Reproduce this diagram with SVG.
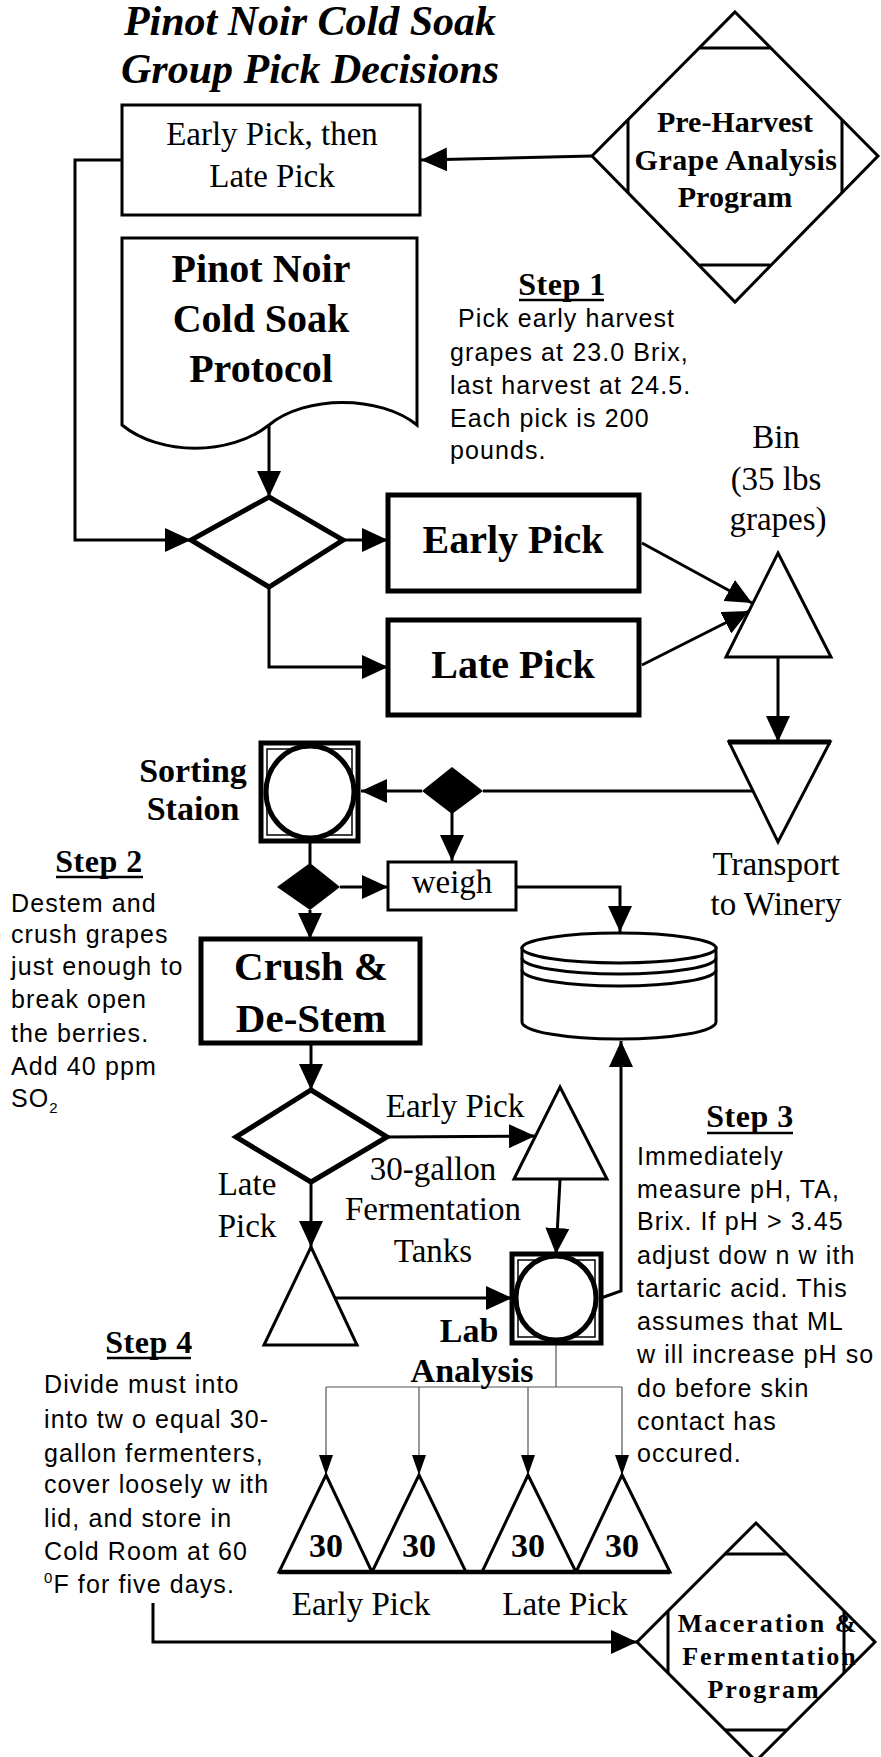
<svg xmlns="http://www.w3.org/2000/svg" width="881" height="1757" viewBox="0 0 881 1757">
<style>
.s{fill:none;stroke:#000;stroke-width:3}
.w{fill:#fff;stroke:#000;stroke-width:3}
.k{fill:#fff;stroke:#000;stroke-width:5}
.b{fill:#000;stroke:none}
.t{font-family:"Liberation Serif","Times New Roman",serif;font-size:33px;text-anchor:middle;fill:#000}
.tb{font-family:"Liberation Serif","Times New Roman",serif;font-weight:bold;text-anchor:middle;fill:#000}
.st{font-family:"Liberation Serif","Times New Roman",serif;font-weight:bold;font-size:32px;text-anchor:middle;fill:#000}
.a{font-family:"Liberation Sans",Arial,sans-serif;font-size:25px;letter-spacing:1.1px;fill:#000}
.c{fill:none;stroke:#000;stroke-width:3}
.thin{fill:none;stroke:#555;stroke-width:1.2}
</style>
<defs>
<marker id="ah" viewBox="0 0 26 24" markerWidth="26" markerHeight="24" refX="26" refY="12" orient="auto" markerUnits="userSpaceOnUse"><path d="M0,0 L26,12 L0,24 Z" fill="#000"/></marker>
<marker id="ahs" viewBox="0 0 20 14" markerWidth="20" markerHeight="14" refX="20" refY="7" orient="auto" markerUnits="userSpaceOnUse"><path d="M0,0 L20,7 L0,14 Z" fill="#000"/></marker>
</defs>
<rect width="881" height="1757" fill="#fff"/>

<g id="title">
<text class="tb" x="310" y="35" font-size="42" font-style="italic">Pinot Noir Cold Soak</text>
<text class="tb" x="310" y="83" font-size="42" font-style="italic">Group Pick Decisions</text>
</g>

<g id="connectors">
<path class="c" d="M592,156 L421,160" marker-end="url(#ah)"/>
<path class="c" d="M122,160 H75 V540 H191" marker-end="url(#ah)"/>
<path class="c" d="M269,425 V497" stroke-width="2.5" marker-end="url(#ah)"/>
<path class="c" d="M343,540 H388" marker-end="url(#ah)"/>
<path class="c" d="M269,587 V667 H388" marker-end="url(#ah)"/>
<path class="c" d="M642,543 L752,603" marker-end="url(#ah)"/>
<path class="c" d="M642,665 L749,611" marker-end="url(#ah)"/>
<path class="c" d="M778,657 V742" marker-end="url(#ah)"/>
<path class="c" d="M753,791 H483"/>
<path class="c" d="M422,791 H361" marker-end="url(#ah)"/>
<path class="c" d="M452,813 V861" marker-end="url(#ah)"/>
<path class="c" d="M310,841 V864"/>
<path class="c" d="M340,887 H388" marker-end="url(#ah)"/>
<path class="c" d="M310,910 V939" marker-end="url(#ah)"/>
<path class="c" d="M516,887 H620 V932" marker-end="url(#ah)"/>
<path class="c" d="M311,1043 V1090" marker-end="url(#ah)"/>
<path class="c" d="M387,1137 L535,1136" marker-end="url(#ah)"/>
<path class="c" d="M311,1182 V1247" marker-end="url(#ah)"/>
<path class="c" d="M334,1298 H512" marker-end="url(#ah)"/>
<path class="c" d="M560,1180 L556,1254" marker-end="url(#ah)"/>
<path class="c" d="M601,1298 L621,1291 V1041" marker-end="url(#ah)"/>
<path class="thin" d="M556,1343 V1387 M326,1387 H622"/>
<path class="thin" d="M326,1387 V1475" marker-end="url(#ahs)"/>
<path class="thin" d="M419,1387 V1475" marker-end="url(#ahs)"/>
<path class="thin" d="M528,1387 V1475" marker-end="url(#ahs)"/>
<path class="thin" d="M622,1387 V1475" marker-end="url(#ahs)"/>
<path class="c" d="M153,1603 V1642 H637" marker-end="url(#ah)"/>
</g>

<g id="early-late-box">
<rect class="w" x="122" y="105" width="298" height="110"/>
<text class="t" x="272" y="145" font-size="32">Early Pick, then</text>
<text class="t" x="272" y="187" font-size="32">Late Pick</text>
</g>

<g id="pre-harvest">
<polygon class="w" points="735,12 878,156 735,302 592,156"/>
<path class="s" d="M700,48 H770 M700,265 H770 M628,120 V193 M842,120 V193"/>
<text class="tb" x="735" y="132" font-size="30">Pre-Harvest</text>
<text class="tb" x="736" y="170" font-size="30" letter-spacing="0.5">Grape Analysis</text>
<text class="tb" x="735" y="207" font-size="30">Program</text>
</g>

<g id="protocol">
<path class="w" d="M122,238 H417 V425 C380,395 305,395 269,425 C230,456 160,456 122,425 Z"/>
<text class="tb" x="261" y="282" font-size="40">Pinot Noir</text>
<text class="tb" x="261" y="332" font-size="40">Cold Soak</text>
<text class="tb" x="261" y="382" font-size="40">Protocol</text>
</g>

<g id="step1">
<text class="st" x="562" y="295" letter-spacing="0.5">Step 1</text>
<line x1="519" y1="300" x2="604" y2="300" stroke="#000" stroke-width="2.5"/>
<text class="a" x="450" y="327" xml:space="preserve"> Pick early harvest</text>
<text class="a" x="450" y="361">grapes at 23.0 Brix,</text>
<text class="a" x="450" y="394">last harvest at 24.5.</text>
<text class="a" x="450" y="427">Each pick is 200</text>
<text class="a" x="450" y="459">pounds.</text>
</g>

<g id="decision1">
<polygon class="k" points="269,497 343,540 269,587 191,540"/>
</g>

<g id="early-pick">
<rect class="k" x="388" y="495" width="251" height="96"/>
<text class="tb" x="513" y="553" font-size="40">Early Pick</text>
</g>

<g id="late-pick">
<rect class="k" x="388" y="620" width="251" height="95"/>
<text class="tb" x="513" y="678" font-size="40">Late Pick</text>
</g>

<g id="bin">
<polygon class="w" points="778,553 831,657 726,657"/>
<text class="t" x="776" y="448">Bin</text>
<text class="t" x="776" y="490">(35 lbs</text>
<text class="t" x="778" y="530">grapes)</text>
</g>

<g id="transport">
<polygon class="w" points="729,742 830,742 778,842"/>
<line x1="728" y1="742" x2="831" y2="742" stroke="#000" stroke-width="5"/>
<text class="t" x="776" y="875">Transport</text>
<text class="t" x="776" y="915">to Winery</text>
</g>

<g id="split1">
<polygon class="b" points="452,767 483,791 452,814 422,791"/>
</g>

<g id="sorting">
<rect class="k" x="261" y="743" width="97" height="98"/>
<rect fill="none" stroke="#000" stroke-width="1.5" x="267" y="749" width="85" height="86"/>
<ellipse class="k" cx="310" cy="792" rx="44" ry="46"/>
<text class="tb" x="193" y="782" font-size="34">Sorting</text>
<text class="tb" x="193" y="820" font-size="34">Staion</text>
</g>

<g id="split2">
<polygon class="b" points="310,863 340,887 310,910 277,887"/>
</g>

<g id="weigh">
<rect class="w" x="388" y="862" width="128" height="48"/>
<text class="t" x="452" y="893">weigh</text>
</g>

<g id="storage">
<path class="w" d="M522,948 V1022 A97,17 0 0 0 716,1022 V948 Z"/>
<ellipse class="w" cx="619" cy="948" rx="97" ry="15"/>
<path class="s" d="M522,958 A97,16 0 0 0 716,958 M522,970 A97,16 0 0 0 716,970"/>
</g>

<g id="step2">
<text class="st" x="99" y="872" letter-spacing="0.5">Step 2</text>
<line x1="56" y1="877" x2="143" y2="877" stroke="#000" stroke-width="2.5"/>
<text class="a" x="11" y="912">Destem and</text>
<text class="a" x="11" y="943">crush grapes</text>
<text class="a" x="11" y="975" letter-spacing="2.2">just enough to</text>
<text class="a" x="11" y="1008">break open</text>
<text class="a" x="11" y="1042">the berries.</text>
<text class="a" x="11" y="1075">Add 40 ppm</text>
<text class="a" x="11" y="1107">SO<tspan font-size="15" dy="6">2</tspan></text>
</g>

<g id="crush">
<rect class="k" x="201" y="939" width="219" height="104"/>
<text class="tb" x="311" y="980" font-size="41">Crush &amp;</text>
<text class="tb" x="311" y="1032" font-size="41">De-Stem</text>
</g>

<g id="decision2">
<polygon class="k" points="311,1090 387,1137 311,1182 236,1137"/>
<text class="t" x="455" y="1117">Early Pick</text>
<text class="t" x="247" y="1195">Late</text>
<text class="t" x="247" y="1237">Pick</text>
</g>

<g id="tank-early">
<polygon class="w" points="560,1087 607,1179 514,1179"/>
</g>

<g id="tank-label">
<text class="t" x="433" y="1180">30-gallon</text>
<text class="t" x="433" y="1220">Fermentation</text>
<text class="t" x="433" y="1262">Tanks</text>
</g>

<g id="tank-late">
<polygon class="w" points="311,1247 357,1345 264,1345"/>
</g>

<g id="lab">
<rect class="k" x="512" y="1254" width="89" height="89"/>
<rect fill="none" stroke="#000" stroke-width="1.5" x="518" y="1260" width="77" height="77"/>
<ellipse class="k" cx="556" cy="1298" rx="40" ry="42"/>
<text class="tb" x="469" y="1342" font-size="34">Lab</text>
<text class="tb" x="472" y="1382" font-size="34">Analysis</text>
</g>

<g id="step3">
<text class="st" x="750" y="1127" letter-spacing="0.5">Step 3</text>
<line x1="707" y1="1133" x2="793" y2="1133" stroke="#000" stroke-width="2.5"/>
<text class="a" x="637" y="1165">Immediately</text>
<text class="a" x="637" y="1198">measure pH, TA,</text>
<text class="a" x="637" y="1230">Brix. If pH &gt; 3.45</text>
<text class="a" x="637" y="1264">adjust dow n w ith</text>
<text class="a" x="637" y="1297">tartaric acid. This</text>
<text class="a" x="637" y="1330">assumes that ML</text>
<text class="a" x="637" y="1363">w ill increase pH so</text>
<text class="a" x="637" y="1397">do before skin</text>
<text class="a" x="637" y="1430">contact has</text>
<text class="a" x="637" y="1462">occured.</text>
</g>

<g id="step4">
<text class="st" x="149" y="1353" letter-spacing="0.5">Step 4</text>
<line x1="107" y1="1358" x2="191" y2="1358" stroke="#000" stroke-width="2.5"/>
<text class="a" x="44" y="1393">Divide must into</text>
<text class="a" x="44" y="1428">into tw o equal 30-</text>
<text class="a" x="44" y="1462">gallon fermenters,</text>
<text class="a" x="44" y="1493" letter-spacing="1.7">cover loosely w ith</text>
<text class="a" x="44" y="1527">lid, and store in</text>
<text class="a" x="44" y="1560">Cold Room at 60</text>
<text class="a" x="44" y="1593"><tspan font-size="15" dy="-10">0</tspan><tspan dy="10">F for five days.</tspan></text>
</g>

<g id="fermenter-1">
<polygon class="w" points="326,1475 372,1572 279,1572"/>
<text class="tb" x="326" y="1557" font-size="34">30</text>
</g>
<g id="fermenter-2">
<polygon class="w" points="419,1475 466,1572 372,1572"/>
<text class="tb" x="419" y="1557" font-size="34">30</text>
</g>
<g id="fermenter-3">
<polygon class="w" points="528,1475 576,1572 482,1572"/>
<text class="tb" x="528" y="1557" font-size="34">30</text>
</g>
<g id="fermenter-4">
<polygon class="w" points="622,1475 670,1572 576,1572"/>
<text class="tb" x="622" y="1557" font-size="34">30</text>
</g>
<g id="fermenter-labels">
<line x1="279" y1="1572" x2="670" y2="1572" stroke="#000" stroke-width="4.5"/>
<text class="t" x="361" y="1615">Early Pick</text>
<text class="t" x="565" y="1615">Late Pick</text>
</g>

<g id="maceration">
<polygon class="w" points="756,1523 875,1642 756,1761 637,1642"/>
<path class="s" d="M725,1554 H787 M725,1730 H787 M668,1611 V1673 M844,1611 V1673"/>
<text class="tb" x="768" y="1632" font-size="26" letter-spacing="2">Maceration &amp;</text>
<text class="tb" x="770" y="1665" font-size="26" letter-spacing="2">Fermentation</text>
<text class="tb" x="764" y="1698" font-size="26" letter-spacing="2">Program</text>
</g>
</svg>
